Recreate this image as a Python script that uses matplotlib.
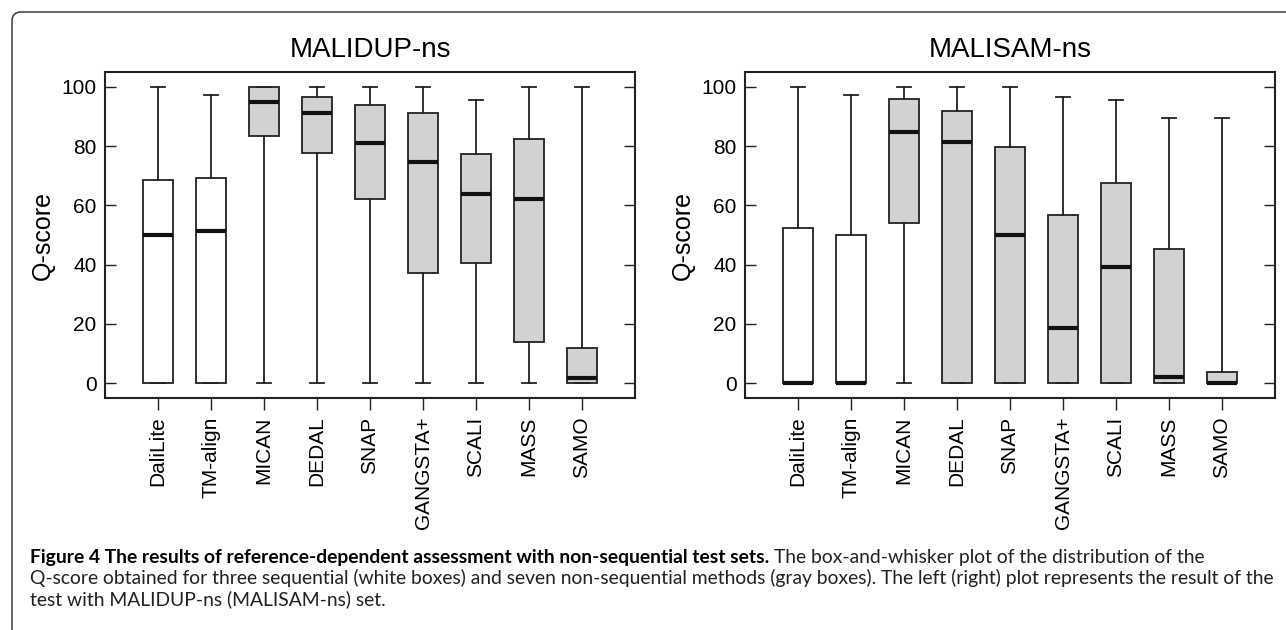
import matplotlib
matplotlib.use('Agg')
import matplotlib.pyplot as plt
from matplotlib.patches import FancyBboxPatch
from matplotlib.transforms import IdentityTransform

plt.rcParams['font.family'] = ['Liberation Sans', 'DejaVu Sans']

methods = ['DaliLite', 'TM-align', 'MICAN', 'DEDAL', 'SNAP', 'GANGSTA+', 'SCALI', 'MASS', 'SAMO']
is_sequential = [True, True, False, False, False, False, False, False, False]

# Q-score summaries, MALIDUP-ns set
dup_low = [0, 0, 0, 0, 0, 0, 0, 0, 0]
dup_q1 = [0, 0, 83.4, 77.8, 62.1, 37.1, 40.6, 13.9, 0]
dup_med = [50.1, 51.2, 94.9, 91.1, 81.0, 74.6, 63.9, 62.1, 1.6]
dup_q3 = [68.6, 69.1, 100, 96.6, 93.9, 91.2, 77.3, 82.5, 11.8]
dup_high = [100, 97.4, 100, 100, 100, 100, 95.4, 100, 100]

# Q-score summaries, MALISAM-ns set
sam_low = [0, 0, 0, 0, 0, 0, 0, 0, 0]
sam_q1 = [0, 0, 53.9, 0, 0, 0, 0, 0, 0]
sam_med = [0, 0, 84.9, 81.3, 50.1, 18.5, 39.2, 2.0, 0]
sam_q3 = [52.4, 50.1, 96.0, 91.8, 79.8, 56.6, 67.7, 45.2, 3.9]
sam_high = [100, 97.4, 100, 100, 100, 96.5, 95.7, 89.6, 89.6]

EDGE = '#222222'
GRAY = '#d1d2d4'


def draw_panel(ax, title, low, q1, med, q3, high):
    stats = []
    for i in range(len(methods)):
        stats.append(dict(whislo=low[i], q1=q1[i], med=med[i], q3=q3[i],
                          whishi=high[i], fliers=[]))
    bp = ax.bxp(stats, positions=range(1, len(methods) + 1), widths=0.58,
                capwidths=0.28, patch_artist=True, showfliers=False,
                boxprops=dict(edgecolor=EDGE, linewidth=1.3),
                whiskerprops=dict(color=EDGE, linewidth=1.3),
                capprops=dict(color=EDGE, linewidth=1.3),
                medianprops=dict(color='#111111', linewidth=3.0,
                                 solid_capstyle='butt'))
    for box, seq in zip(bp['boxes'], is_sequential):
        box.set_facecolor('white' if seq else GRAY)
    for m in bp['medians']:
        m.set_zorder(5)

    ax.set_xlim(0, len(methods) + 1)
    ax.set_ylim(-5, 105)
    ax.set_yticks(range(0, 101, 20))
    ax.set_xticks(range(1, len(methods) + 1))
    ax.set_xticklabels(methods, rotation=90)
    ax.tick_params(axis='y', direction='in', length=8, width=1.0,
                   right=True, labelsize=15, pad=6, color=EDGE)
    ax.tick_params(axis='x', direction='out', length=8.5, width=1.0,
                   labelsize=15, pad=5, color=EDGE)
    for sp in ax.spines.values():
        sp.set_linewidth(1.5)
        sp.set_color(EDGE)
    ax.set_title(title, fontsize=20, pad=11)
    ax.set_ylabel('Q-score', fontsize=18)
    ax.yaxis.set_label_coords(-0.095, 0.5)


fig = plt.figure(figsize=(12.86, 6.30), dpi=100)
ax1 = fig.add_axes([105 / 1286, 232 / 630, 530 / 1286, 326 / 630])
ax2 = fig.add_axes([745 / 1286, 232 / 630, 530 / 1286, 326 / 630])

draw_panel(ax1, 'MALIDUP-ns', dup_low, dup_q1, dup_med, dup_q3, dup_high)
draw_panel(ax2, 'MALISAM-ns', sam_low, sam_q1, sam_med, sam_q3, sam_high)

# frame around the figure, open on the right and bottom
frame = FancyBboxPatch((12, -40), 1400, 618 + 40,
                       boxstyle='round,pad=0,rounding_size=9',
                       transform=IdentityTransform(), fill=False,
                       edgecolor='#3a3a3a', linewidth=1.1)
fig.add_artist(frame)

# caption
cap_font = ['Lato', 'DejaVu Sans']
cap_size = 13.9
x0 = 30 / 1286
bold = fig.text(x0, 1 - 563 / 630,
                'Figure 4 The results of reference-dependent assessment with non-sequential test sets.',
                family=cap_font, fontweight='bold', fontsize=cap_size, va='baseline')
fig.text(x0, 1 - 584 / 630,
         'Q-score obtained for three sequential (white boxes) and seven non-sequential methods '
         '(gray boxes). The left (right) plot represents the result of the',
         family=cap_font, fontsize=cap_size, va='baseline', color='#222222')
fig.text(x0, 1 - 605 / 630, 'test with MALIDUP-ns (MALISAM-ns) set.',
         family=cap_font, fontsize=cap_size, va='baseline', color='#222222')

fig.canvas.draw()
bb = bold.get_window_extent(fig.canvas.get_renderer())
fig.text((bb.x1 + 5) / 1286, 1 - 563 / 630,
         'The box-and-whisker plot of the distribution of the',
         family=cap_font, fontsize=cap_size, va='baseline', color='#222222')

fig.savefig('out.png', dpi=100)
